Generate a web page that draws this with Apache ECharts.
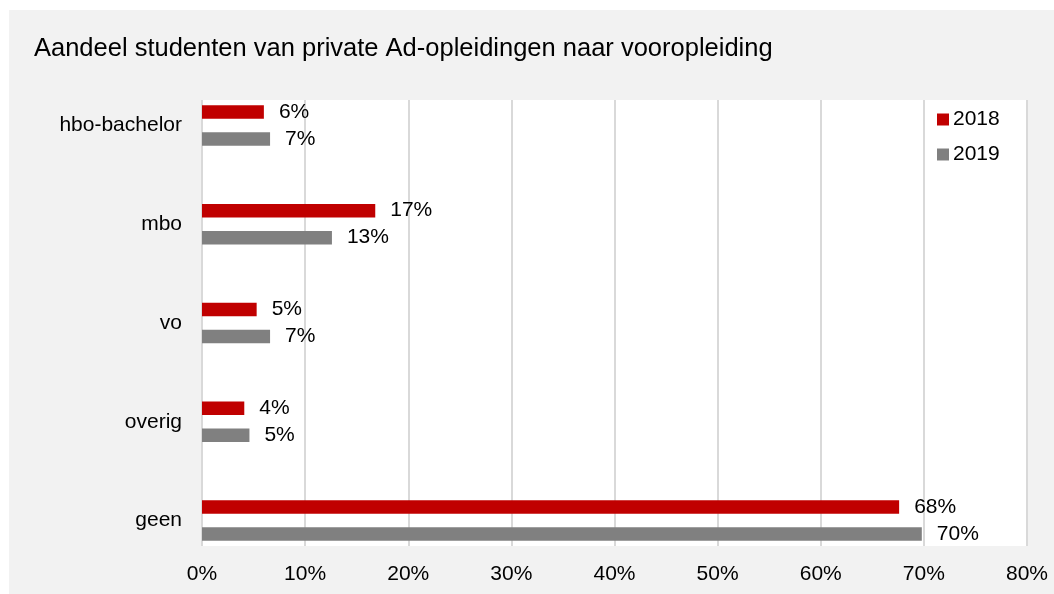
<!DOCTYPE html>
<html>
<head>
<meta charset="utf-8">
<script src="https://cdn.jsdelivr.net/npm/echarts@6/dist/echarts.min.js"></script>
<style>
html,body{margin:0;padding:0;background:#fff;}
#wrap{position:relative;width:1054px;height:594px;background:#fff;overflow:hidden;}
#chart{position:absolute;left:9px;top:10px;width:1045px;height:584px;}
</style>
</head>
<body>
<div id="wrap"><div id="chart"></div></div>
<script>
var title = 'Aandeel studenten van private Ad-opleidingen naar vooropleiding';
var categories = ['hbo-bachelor', 'mbo', 'vo', 'overig', 'geen'];
var seriesNames = ['2018', '2019'];
var values2018 = [6.0, 16.8, 5.3, 4.1, 67.6];
var values2019 = [6.6, 12.6, 6.6, 4.6, 69.8];
var xTicks = [0, 10, 20, 30, 40, 50, 60, 70, 80];

var FONT = 'Liberation Sans, Arial, sans-serif';
var chart = echarts.init(document.getElementById('chart'));
var labelCfg = {
  show: true, position: 'right', distance: 15,
  fontFamily: FONT, fontSize: 21, color: '#000',
  formatter: function (p) { return Math.round(p.value) + '%'; }
};
chart.setOption({
  backgroundColor: '#f2f2f2',
  animation: false,
  textStyle: { fontFamily: FONT },
  title: {
    text: title, left: 20, top: 21,
    textStyle: { fontFamily: FONT, fontSize: 25.5, fontWeight: 'normal', color: '#000' }
  },
  legend: {
    orient: 'vertical', left: 923, top: 94,
    itemWidth: 12, itemHeight: 12, itemGap: 14, icon: 'rect',
    data: seriesNames,
    textStyle: { fontFamily: FONT, fontSize: 21, color: '#000', padding: [0, 0, 0, -1] }
  },
  grid: [
    { left: 193, right: 27, top: 66, bottom: 24, show: false },
    { left: 193, right: 27, top: 90, bottom: 48, show: true, backgroundColor: '#ffffff', borderWidth: 0, z: -1 }
  ],
  xAxis: [
    { gridIndex: 0, type: 'value', min: 0, max: 80, interval: 10, show: false },
    {
      gridIndex: 1, type: 'value', min: 0, max: 80, interval: 10,
      axisLine: { show: false }, axisTick: { show: false },
      splitLine: { show: true, lineStyle: { color: '#d9d9d9', width: 2 } },
      axisLabel: {
        margin: 18, fontFamily: FONT, fontSize: 21, color: '#000',
        formatter: function (v) { return xTicks.indexOf(v) >= 0 ? v + '%' : ''; }
      }
    }
  ],
  yAxis: [
    {
      gridIndex: 0, type: 'category', data: categories, inverse: true,
      axisLine: { show: false }, axisTick: { show: false },
      axisLabel: { margin: 20, fontFamily: FONT, fontSize: 21, color: '#000' }
    },
    {
      gridIndex: 1, type: 'category', data: categories, inverse: true,
      axisLine: { show: false }, axisTick: { show: false }, axisLabel: { show: false }
    }
  ],
  series: [
    {
      name: seriesNames[0], type: 'bar', xAxisIndex: 0, yAxisIndex: 0,
      data: values2018, barWidth: 13.5, barGap: '100%',
      itemStyle: { color: '#c00000' }, label: labelCfg
    },
    {
      name: seriesNames[1], type: 'bar', xAxisIndex: 0, yAxisIndex: 0,
      data: values2019, barWidth: 13.5, barGap: '100%',
      itemStyle: { color: '#808080' }, label: labelCfg
    }
  ]
});
</script>
</body>
</html>
